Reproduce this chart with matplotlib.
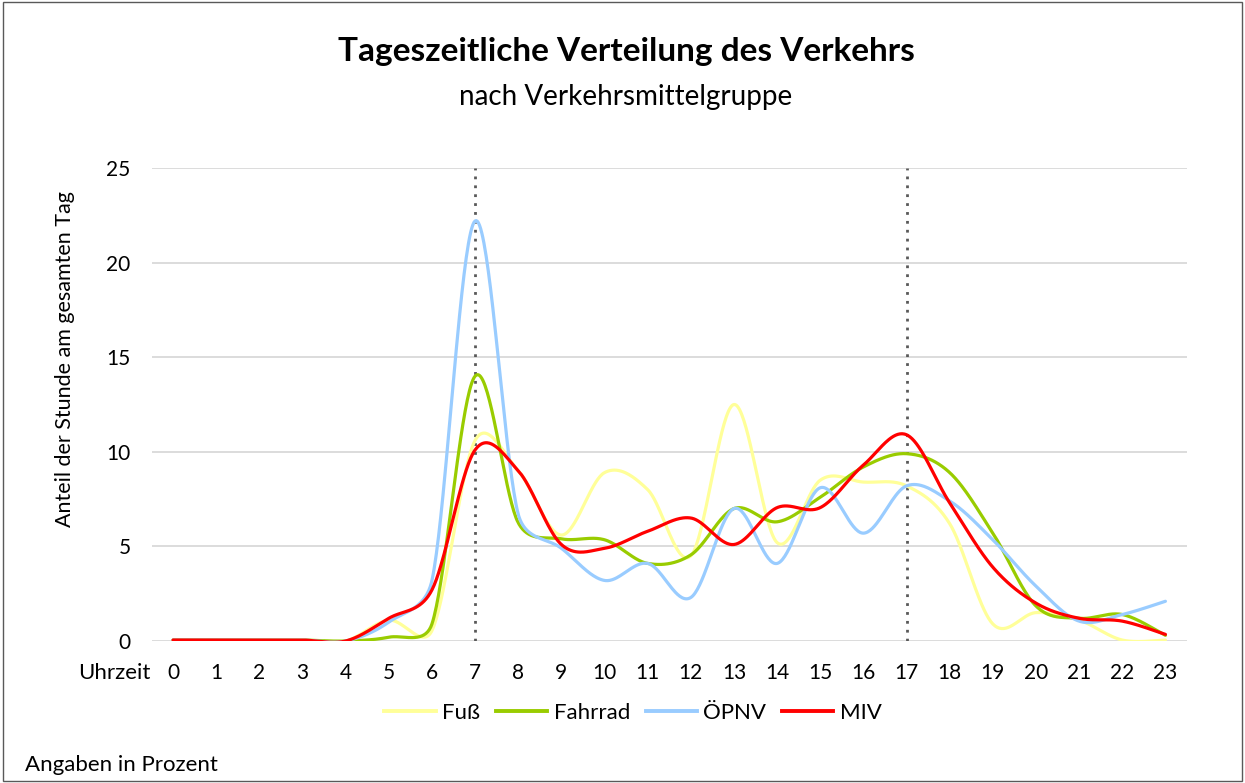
import numpy as np
import matplotlib
matplotlib.use("Agg")
import matplotlib.pyplot as plt
from matplotlib.patches import Rectangle
from matplotlib.lines import Line2D

plt.rcParams['font.family'] = ['Lato', 'DejaVu Sans']

hours = list(range(24))
hour_labels = [str(h) for h in hours]
fuss = [0.05, 0.05, 0.05, 0.05, 0.0, 1.1, 0.55, 10.6, 9.0, 5.6, 8.9, 8.0, 4.5, 12.5, 5.2, 8.5, 8.4, 8.2, 6.2, 0.9, 1.5, 1.1, 0.05, 0.05]
fahrrad = [0.05, 0.05, 0.05, 0.05, 0.0, 0.2, 0.9, 14.0, 6.25, 5.4, 5.35, 4.1, 4.55, 7.0, 6.3, 7.6, 9.2, 9.9, 8.9, 5.7, 1.85, 1.2, 1.4, 0.3]
oepnv = [0.05, 0.05, 0.05, 0.05, 0.0, 1.0, 3.2, 22.2, 6.7, 4.9, 3.2, 4.1, 2.3, 7.0, 4.1, 8.1, 5.7, 8.2, 7.4, 5.35, 2.9, 1.05, 1.4, 2.1]
miv = [0.05, 0.05, 0.05, 0.05, 0.0, 1.2, 2.7, 10.1, 9.0, 5.1, 4.9, 5.8, 6.5, 5.1, 7.05, 7.05, 9.3, 10.9, 7.3, 3.9, 2.0, 1.2, 1.05, 0.35]
series_names = ['Fuß', 'Fahrrad', 'ÖPNV', 'MIV']
series_vals = [fuss, fahrrad, oepnv, miv]
colors = ['#FFFF99', '#99CC00', '#99CCFF', '#FF0000']
marked_hours = [7, 17]

W, H = 1245, 783
fig = plt.figure(figsize=(W / 100, H / 100), dpi=100)
fig.patch.set_facecolor('white')

fig.add_artist(Rectangle((3 / W, 2 / H), (W - 6) / W, (H - 4) / H, transform=fig.transFigure,
                         fill=False, edgecolor='#595959', linewidth=1.0))

ax = fig.add_axes([151.5 / W, (H - 641) / H, (1187 - 151.5) / W, (641 - 168) / H])
ax.set_xlim(-0.5, 23.5)
ax.set_ylim(0, 25)


def smooth(ax, x, y, n=40):
    """Excel-like smoothed line: Bezier with Catmull-Rom tangents (1/6),
    control arms clamped to half the segment length in display space."""
    pts = ax.transData.transform(np.column_stack([x, y]).astype(float))
    P = np.vstack([pts[0], pts, pts[-1]])
    t = np.linspace(0, 1, n)[:, None]
    out = []
    for i in range(1, len(P) - 2):
        p0, p1, p2, p3 = P[i - 1], P[i], P[i + 1], P[i + 2]
        d12 = np.linalg.norm(p2 - p1)
        a1 = (p2 - p0) / 6.0
        a2 = (p3 - p1) / 6.0
        for a in (a1, a2):
            la = np.linalg.norm(a)
            if la > d12 / 2 and la > 0:
                a *= (d12 / 2) / la
        c1 = p1 + a1
        c2 = p2 - a2
        b = (1 - t) ** 3 * p1 + 3 * (1 - t) ** 2 * t * c1 + 3 * (1 - t) * t ** 2 * c2 + t ** 3 * p2
        out.append(b)
    out = np.vstack(out)
    data = ax.transData.inverted().transform(out)
    return data[:, 0], data[:, 1]


for s in ax.spines.values():
    s.set_visible(False)
ax.set_yticks([0, 5, 10, 15, 20, 25])
ax.yaxis.grid(True, color='#D9D9D9', linewidth=1.3)
ax.set_axisbelow(True)
ax.set_xticks(hours)
ax.set_xticklabels(hour_labels)
ax.tick_params(axis='both', length=0, labelsize=15, colors='black')
ax.tick_params(axis='x', pad=16)
ax.tick_params(axis='y', pad=15)

for h in marked_hours:
    ax.axvline(h, color='#595959', linestyle=(0, (1, 2.2)), linewidth=2.0, zorder=1.5)

handles = []
for name, vals, c in zip(series_names, series_vals, colors):
    sx, sy = smooth(ax, hours, vals)
    ax.plot(sx, sy, color=c, linewidth=2.3, solid_capstyle='round', zorder=3)
    handles.append(Line2D([], [], color=c, linewidth=2.8))

fig.text(626 / W, 1 - 52 / H, 'Tageszeitliche Verteilung des Verkehrs', ha='center', va='center',
         fontsize=24, fontweight='bold')
fig.text(626 / W, 1 - 97 / H, 'nach Verkehrsmittelgruppe', ha='center', va='center', fontsize=20)
fig.text(65 / W, 1 - 359 / H, 'Anteil der Stunde am gesamten Tag', ha='center', va='center',
         rotation=90, fontsize=15.5)
fig.text(150 / W, 1 - 673 / H, 'Uhrzeit', ha='right', va='center', fontsize=16)
fig.text(25 / W, 1 - 765 / H, 'Angaben in Prozent', ha='left', va='center', fontsize=16)

fig.legend(handles, series_names, loc='center', bbox_to_anchor=(633 / W, 1 - 713 / H), ncol=4,
           frameon=False, fontsize=16, handlelength=2.3, handletextpad=0.3, columnspacing=0.7)

fig.savefig('out.png', dpi=100)
